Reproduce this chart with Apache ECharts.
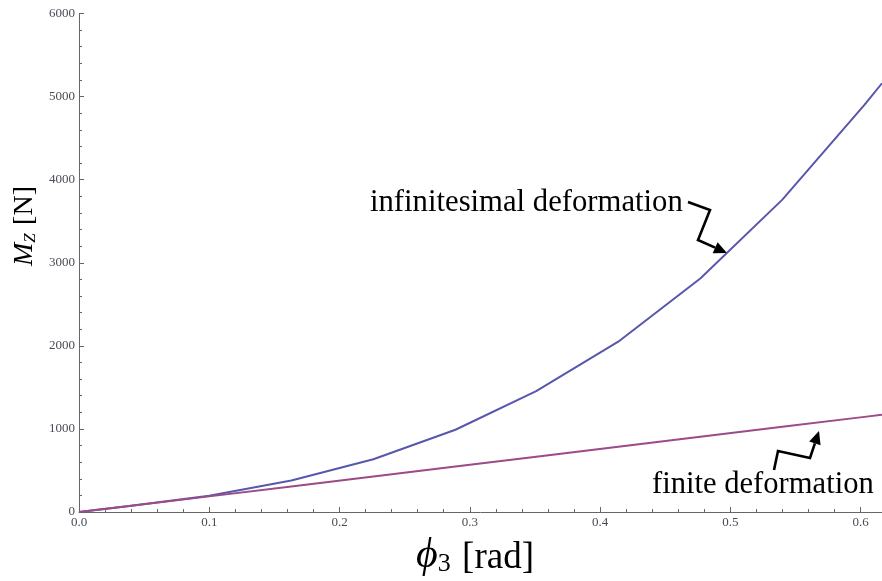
<!DOCTYPE html>
<html>
<head>
<meta charset="utf-8">
<script src="https://cdn.jsdelivr.net/npm/echarts@6/dist/echarts.min.js"></script>
<style>html,body{margin:0;padding:0;background:#fff}#c{width:882px;height:581px}</style>
</head>
<body>
<div id="c"></div>
<script>
// phi_3 sample positions [rad]
var phiValues = [0, 0.037, 0.100, 0.163, 0.226, 0.289, 0.351, 0.414, 0.477, 0.540, 0.603, 0.6165];
// M_Z [N], infinitesimal deformation
var infinitesimalValues = [0, 70, 195, 380, 635, 990, 1455, 2050, 2810, 3760, 4900, 5160];
// M_Z [N], finite deformation
var finiteValues = [0, 70, 188, 308, 428, 548, 666, 786, 905, 1025, 1145, 1171];
var yTicks = [0, 1000, 2000, 3000, 4000, 5000, 6000];
var xTicks = [0.0, 0.1, 0.2, 0.3, 0.4, 0.5, 0.6];

var seriesA = phiValues.map(function (x, i) { return [x, infinitesimalValues[i]]; });
var seriesB = phiValues.map(function (x, i) { return [x, finiteValues[i]]; });

var chart = echarts.init(document.getElementById('c'), null, {renderer: 'canvas'});

function arrow(points, len, hw) {
  var n = points.length;
  var tip = points[n - 1], prev = points[n - 2];
  var dx = tip[0] - prev[0], dy = tip[1] - prev[1];
  var L = Math.sqrt(dx * dx + dy * dy);
  dx /= L; dy /= L;
  var base = [tip[0] - len * dx, tip[1] - len * dy];
  var px = -dy, py = dx;
  var line = points.slice(0, n - 1).concat([base]);
  return [
    {type: 'polyline', shape: {points: line}, style: {stroke: '#000', lineWidth: 2.6, fill: null}, silent: true},
    {type: 'polygon', shape: {points: [tip, [base[0] + hw * px, base[1] + hw * py], [base[0] - hw * px, base[1] - hw * py]]},
      style: {fill: '#000'}, silent: true}
  ];
}

var SERIF = 'Liberation Serif';
var axisFont = {fontFamily: SERIF, fontSize: 13, color: '#4a4a55'};

var option = {
  backgroundColor: '#fff',
  animation: false,
  grid: {left: 79, right: 0, top: 13.5, bottom: 69, containLabel: false},
  xAxis: {
    type: 'value', min: 0, max: 0.6165, interval: 0.1,
    axisLine: {show: true, onZero: false, lineStyle: {color: '#666', width: 1}},
    axisTick: {show: true, inside: true, length: 5, lineStyle: {color: '#666'}},
    minorTick: {show: true, splitNumber: 5, length: 3, lineStyle: {color: '#666'}},
    splitLine: {show: false},
    axisLabel: Object.assign({margin: 4, showMaxLabel: false, formatter: function (v) { return v.toFixed(1); }}, axisFont)
  },
  yAxis: {
    type: 'value', min: 0, max: 6000, interval: 1000,
    axisLine: {show: true, onZero: false, lineStyle: {color: '#666', width: 1}},
    axisTick: {show: true, inside: true, length: 5, lineStyle: {color: '#666'}},
    minorTick: {show: true, splitNumber: 5, length: 3, lineStyle: {color: '#666'}},
    splitLine: {show: false},
    axisLabel: Object.assign({margin: 4, formatter: function (v) { return String(v); }}, axisFont)
  },
  series: [
    {type: 'line', name: 'infinitesimal deformation', data: seriesA, showSymbol: false,
      lineStyle: {color: '#5757ad', width: 2}, z: 3},
    {type: 'line', name: 'finite deformation', data: seriesB, showSymbol: false,
      lineStyle: {color: '#9c4a88', width: 2}, z: 4}
  ],
  graphic: [
    {type: 'text', left: 370, top: 187, silent: true,
      style: {text: 'infinitesimal deformation', fontFamily: SERIF, fontSize: 30.7, fill: '#000'}},
    {type: 'text', left: 652, top: 469, silent: true,
      style: {text: 'finite deformation', fontFamily: SERIF, fontSize: 30.6, fill: '#000'}},
    {type: 'text', left: 416, top: 535, silent: true,
      style: {
        text: '{p|\u03d5}{s|3} {n|[rad]}',
        rich: {
          p: {fontFamily: SERIF, fontStyle: 'italic', fontSize: 42, lineHeight: 46, verticalAlign: 'bottom'},
          s: {fontFamily: SERIF, fontSize: 26, lineHeight: 42, verticalAlign: 'bottom', padding: [0, 8, 0, 0]},
          n: {fontFamily: SERIF, fontSize: 37, lineHeight: 44, verticalAlign: 'bottom'}
        }
      }
    },
    {type: 'text', x: 22, y: 226, rotation: Math.PI / 2, silent: true,
      style: {
        text: '{m|M}{z|Z} {n|[N]}', align: 'center', verticalAlign: 'middle',
        rich: {
          m: {fontFamily: SERIF, fontStyle: 'italic', fontSize: 28, lineHeight: 34, verticalAlign: 'bottom'},
          z: {fontFamily: SERIF, fontStyle: 'italic', fontSize: 17, lineHeight: 30, verticalAlign: 'bottom', padding: [0, 5, 0, 0]},
          n: {fontFamily: SERIF, fontSize: 28, lineHeight: 34, verticalAlign: 'bottom'}
        }
      }
    }
  ].concat(arrow([[688, 202], [710, 210], [698, 240], [727, 253]], 13, 6))
   .concat(arrow([[774, 470], [778, 451], [810, 458], [819, 431]], 13, 6))
};
chart.setOption(option);
</script>
</body>
</html>
